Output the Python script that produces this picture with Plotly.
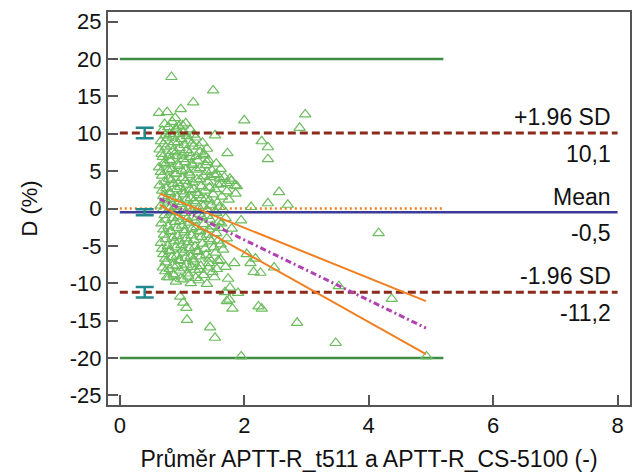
import plotly.graph_objects as go

# mean of the two methods (x) and relative difference D in % (y)
scatter_x = [
    0.83, 1.50, 1.18, 0.63, 0.76, 0.98, 0.89, 1.53, 1.73, 1.42,
    2.00, 2.98, 2.89, 2.28, 2.38, 2.38, 1.77, 1.72, 1.88, 2.56, 2.38, 2.70, 2.11,
    1.95, 1.84, 2.10, 2.18, 2.04, 2.15, 2.26, 2.48, 1.74, 1.77, 1.90, 1.76, 1.81,
    2.23, 2.28, 2.85, 3.47, 1.95, 3.52, 4.16, 4.37, 4.93,
    1.07, 1.08, 1.45, 1.53, 0.97, 1.02, 0.79, 1.69, 1.72,
    1.61, 1.45, 1.40, 1.85, 1.80,
    0.72, 0.84, 0.95, 1.06,
    0.68, 0.80, 0.91, 1.02, 1.13,
    0.66, 0.77, 0.88, 0.99, 1.10, 1.22, 1.33,
    0.64, 0.74, 0.85, 0.96, 1.07, 1.18, 1.29, 1.40,
    0.69, 0.80, 0.91, 1.02, 1.13, 1.25, 1.36, 1.55,
    0.63, 0.73, 0.84, 0.95, 1.06, 1.17, 1.29, 1.48, 1.62,
    0.68, 0.79, 0.90, 1.01, 1.12, 1.24, 1.35, 1.52, 1.68,
    0.64, 0.75, 0.86, 0.97, 1.08, 1.19, 1.31, 1.44, 1.58,
    0.70, 0.81, 0.92, 1.03, 1.14, 1.26, 1.38, 1.50, 1.64,
    0.66, 0.77, 0.88, 0.99, 1.11, 1.22, 1.34, 1.47, 1.60,
    0.72, 0.83, 0.94, 1.05, 1.16, 1.28, 1.41, 1.55, 1.70,
    0.67, 0.78, 0.89, 1.00, 1.12, 1.23, 1.35, 1.49, 1.63,
    0.71, 0.82, 0.93, 1.04, 1.15, 1.27, 1.40, 1.55,
    0.66, 0.77, 0.88, 0.99, 1.10, 1.21, 1.33, 1.47, 1.62,
    0.70, 0.81, 0.92, 1.03, 1.14, 1.26, 1.39, 1.54,
    0.74, 0.85, 0.96, 1.07, 1.18, 1.30, 1.43, 1.58,
    0.73, 0.86, 0.97, 1.09, 1.21, 1.34, 1.49,
    0.90, 1.02, 1.14, 1.27, 1.40,
    0.78, 0.90, 1.01,
    0.73, 0.85, 0.96, 1.08, 1.19,
    0.70, 0.82, 0.93, 1.04, 1.16, 1.27,
    0.67, 0.79, 0.90, 1.01, 1.12, 1.23, 1.35,
    0.71, 0.82, 0.93, 1.05, 1.16, 1.38,
    0.66, 0.78, 0.89, 1.00, 1.11, 1.23, 1.40, 1.56,
    0.72, 0.83, 0.94, 1.06, 1.17, 1.29, 1.41, 1.63, 1.79,
    0.68, 0.80, 0.91, 1.02, 1.13, 1.25, 1.37, 1.53, 1.72, 1.86,
    0.73, 0.84, 0.96, 1.07, 1.19, 1.31, 1.44, 1.57, 1.75,
    0.69, 0.80, 0.91, 1.03, 1.15, 1.27, 1.40, 1.53, 1.66,
    0.74, 0.85, 0.97, 1.08, 1.20, 1.32, 1.45, 1.59,
    0.70, 0.81, 0.92, 1.04, 1.16, 1.29, 1.43, 1.60,
    0.74, 0.85, 0.96, 1.07, 1.19, 1.31, 1.44, 1.58, 1.72,
    0.68, 0.79, 0.90, 1.01, 1.12, 1.24, 1.37, 1.51, 1.66,
    0.73, 0.84, 0.95, 1.06, 1.18, 1.30, 1.44, 1.62,
    0.69, 0.80, 0.91, 1.03, 1.15, 1.28, 1.42, 1.56, 1.70,
    0.76, 0.87, 0.98, 1.10, 1.22, 1.35, 1.52,
]
scatter_y = [
    17.6, 15.8, 14.2, 12.8, 12.9, 13.3, 12.1, 9.8, 7.4, 6.5,
    11.8, 12.6, 10.8, 9.0, 8.2, 6.6, 4.0, 3.4, 3.0, 2.2, 0.7, 0.5, 0.2,
    -1.6, -7.3, -7.3, -6.7, -6.1, -8.5, -8.6, -7.9, -9.4, -10.6, -11.3, -12.2, -13.4,
    -13.1, -13.4, -15.3, -18.0, -19.8, -10.4, -3.3, -12.1, -19.8,
    -13.3, -14.9, -15.9, -17.3, -11.8, -12.6, -9.2, -11.2, -12.4,
    4.0, 4.2, 6.2, 3.1, -2.7,
    11.3, 11.6, 11.0, 11.4,
    10.4, 10.0, 10.5, 10.2, 10.6,
    9.0, 9.4, 8.9, 9.3, 9.1, 9.5, 8.8,
    7.9, 8.2, 7.7, 8.1, 7.8, 8.3, 7.6, 8.0,
    6.9, 6.5, 7.0, 6.6, 6.9, 6.4, 7.1, 6.0,
    5.5, 5.9, 5.3, 5.7, 5.2, 5.8, 5.4, 5.1, 5.3,
    4.4, 4.0, 4.6, 4.1, 4.5, 3.9, 4.3, 4.5, 4.2,
    3.1, 2.7, 3.3, 2.9, 3.2, 2.6, 3.0, 2.8, 3.2,
    1.7, 2.0, 1.5, 1.9, 1.4, 1.8, 1.3, 1.9, 1.6,
    0.4, 0.8, 0.2, 0.6, 0.1, 0.7, 0.3, 0.5, 0.2,
    -0.9, -0.5, -1.1, -0.6, -1.2, -0.7, -1.0, -0.6, -1.3,
    -2.0, -2.4, -1.8, -2.3, -1.9, -2.5, -2.1, -2.4, -2.0,
    -3.5, -3.1, -3.7, -3.2, -3.6, -3.0, -3.5, -3.3,
    -4.6, -5.0, -4.4, -4.9, -4.5, -5.1, -4.7, -4.4, -4.8,
    -6.1, -5.7, -6.3, -5.9, -6.4, -5.8, -6.2, -5.9,
    -7.2, -7.6, -7.0, -7.5, -7.1, -7.7, -7.3, -7.0,
    -8.4, -8.8, -8.3, -8.7, -8.2, -8.9, -8.5,
    -9.8, -9.5, -10.0, -9.6, -10.1,
    10.9, 10.7, 11.1,
    9.8, 9.6, 10.0, 9.7, 9.9,
    8.6, 8.4, 8.8, 8.5, 8.7, 8.3,
    7.3, 7.1, 7.5, 7.2, 7.4, 7.0, 7.3,
    6.1, 6.3, 5.9, 6.2, 6.0, 5.8,
    4.9, 5.1, 4.7, 5.0, 4.8, 5.2, 4.9, 4.6,
    3.6, 3.8, 3.4, 3.7, 3.5, 3.9, 3.6, 3.3, 3.7,
    2.4, 2.2, 2.6, 2.3, 2.5, 2.1, 2.4, 2.6, 2.3, 2.0,
    1.1, 1.3, 0.9, 1.2, 1.0, 1.4, 1.1, 0.8, 1.2,
    -0.2, 0.0, -0.4, -0.1, -0.3, 0.1, -0.2, -0.4, -0.1,
    -1.5, -1.3, -1.7, -1.4, -1.6, -1.2, -1.5, -1.8,
    -2.8, -3.0, -2.6, -2.9, -2.7, -3.1, -2.8, -2.6,
    -4.1, -3.9, -4.3, -4.0, -4.2, -3.8, -4.1, -4.3, -4.0,
    -5.4, -5.6, -5.2, -5.5, -5.3, -5.7, -5.4, -5.2, -5.5,
    -6.7, -6.5, -6.9, -6.6, -6.8, -6.4, -6.7, -6.9,
    -7.9, -8.1, -7.7, -8.0, -7.8, -8.2, -7.9, -8.1, -7.8,
    -9.2, -9.0, -9.4, -9.1, -9.3, -8.9, -9.2,
]

mean_diff = -0.5
sd_upper = 10.1
sd_lower = -11.2
limits_ci = [0.7, 0.4, 0.7]
limit_x = [0, 8.0]
accept_limits = [20, -20]
accept_x = [0, 5.2]
zero_x = [0, 5.2]

reg_x = [0.64, 4.92]
reg_y = [1.3, -16.0]
ci_upper_y = [2.0, -12.4]
ci_lower_y = [0.5, -19.5]

x_ticks = [0, 2, 4, 6, 8]
y_ticks = [-25, -20, -15, -10, -5, 0, 5, 10, 15, 20, 25]

FONT = "Liberation Sans, Arial, sans-serif"
GREEN = "#3f8c43"
DARKRED = "#8a2b1c"
BLUE = "#3c3c98"
ORANGE = "#f07f22"
PURPLE = "#b042b0"
TEAL = "#21888c"
POINTS = "#6cbd5e"

fig = go.Figure()

for lim in accept_limits:
    fig.add_scatter(x=accept_x, y=[lim, lim], mode="lines",
                    line=dict(color=GREEN, width=2.5), showlegend=False)

fig.add_scatter(x=zero_x, y=[0, 0], mode="lines",
                line=dict(color=ORANGE, width=2.5, dash="2px,3px"), showlegend=False)

fig.add_scatter(x=scatter_x, y=scatter_y, mode="markers",
                marker=dict(symbol="triangle-up-open", size=10, color=POINTS,
                            line=dict(width=1.2, color=POINTS)),
                showlegend=False)

for lim in [sd_upper, sd_lower]:
    fig.add_scatter(x=limit_x, y=[lim, lim], mode="lines",
                    line=dict(color=DARKRED, width=3, dash="8px,4px"), showlegend=False)

fig.add_scatter(x=limit_x, y=[mean_diff, mean_diff], mode="lines",
                line=dict(color=BLUE, width=2.5), showlegend=False)

for ys in [ci_upper_y, ci_lower_y]:
    fig.add_scatter(x=reg_x, y=ys, mode="lines",
                    line=dict(color=ORANGE, width=2), showlegend=False)

fig.add_scatter(x=reg_x, y=reg_y, mode="lines",
                line=dict(color=PURPLE, width=3, dash="6px,3px,2px,3px"), showlegend=False)

fig.add_scatter(x=[0.4, 0.4, 0.4], y=[sd_upper, mean_diff, sd_lower], mode="markers",
                marker=dict(size=1, color=TEAL),
                error_y=dict(type="data", array=limits_ci, color=TEAL, thickness=2.5, width=9),
                showlegend=False)

labels = [
    ("+1.96 SD", sd_upper, 16), (f"{sd_upper:.1f}".replace(".", ","), sd_upper, -21),
    ("Mean", mean_diff, 15), (f"{mean_diff:.1f}".replace(".", ","), mean_diff, -21),
    ("-1.96 SD", sd_lower, 16), (f"{sd_lower:.1f}".replace(".", ","), sd_lower, -21),
]
for text, yv, shift in labels:
    fig.add_annotation(x=7.93, y=yv, text=text, showarrow=False, xanchor="right",
                       yanchor="middle", yshift=shift,
                       font=dict(family=FONT, size=23, color="#111"))

axis_common = dict(showgrid=False, zeroline=False, showline=True, mirror=True,
                   linecolor="#555", linewidth=2, ticks="inside", ticklen=10,
                   tickwidth=2, tickcolor="#555", automargin=False,
                   tickfont=dict(family=FONT, size=22, color="#111"))

fig.update_xaxes(range=[-0.19, 8.2], tickvals=x_ticks, ticktext=[str(t) for t in x_ticks],
                 title=dict(text="Průměr APTT-R_t511 a APTT-R_CS-5100 (-)",
                            font=dict(family=FONT, size=23, color="#111"), standoff=13),
                 **axis_common)
fig.update_yaxes(range=[-26.3, 26.3], tickvals=y_ticks, ticktext=[str(t) for t in y_ticks],
                 title=dict(text="D (%)", font=dict(family=FONT, size=22, color="#111"),
                            standoff=26),
                 **axis_common)

# the page body adds an 8px offset, so the margins are shifted to compensate
fig.update_layout(width=643, height=475, plot_bgcolor="white", paper_bgcolor="white",
                  margin=dict(l=100, r=21, t=4, b=78))

fig.write_html("out.html")
